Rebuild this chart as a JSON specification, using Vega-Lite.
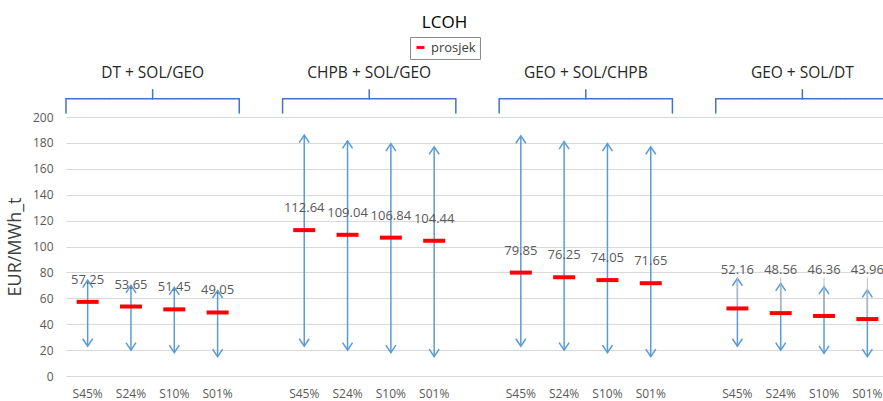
{
  "$schema": "https://vega.github.io/schema/vega-lite/v6.json",
  "width": 823,
  "height": 259,
  "autosize": {"type": "none"},
  "padding": {"left": 66, "top": 117, "right": 0, "bottom": 25},
  "background": "white",
  "title": {
    "text": "LCOH",
    "fontSize": 17,
    "fontWeight": "normal",
    "color": "#000000",
    "anchor": "middle",
    "frame": "group",
    "offset": 5,
    "dx": -33
  },
  "datasets": {
    "lcoh": [
      {"grp": "DT + SOL/GEO", "cat": "1|S45%", "min": 23, "max": 74, "mean": 57.25},
      {"grp": "DT + SOL/GEO", "cat": "1|S24%", "min": 20, "max": 70, "mean": 53.65},
      {"grp": "DT + SOL/GEO", "cat": "1|S10%", "min": 18, "max": 68.4, "mean": 51.45},
      {"grp": "DT + SOL/GEO", "cat": "1|S01%", "min": 15, "max": 66, "mean": 49.05},
      {"grp": "CHPB + SOL/GEO", "cat": "2|S45%", "min": 23, "max": 186, "mean": 112.64},
      {"grp": "CHPB + SOL/GEO", "cat": "2|S24%", "min": 20, "max": 181.5, "mean": 109.04},
      {"grp": "CHPB + SOL/GEO", "cat": "2|S10%", "min": 18, "max": 179.5, "mean": 106.84},
      {"grp": "CHPB + SOL/GEO", "cat": "2|S01%", "min": 15, "max": 177, "mean": 104.44},
      {"grp": "GEO + SOL/CHPB", "cat": "3|S45%", "min": 23, "max": 185.5, "mean": 79.85},
      {"grp": "GEO + SOL/CHPB", "cat": "3|S24%", "min": 20, "max": 181, "mean": 76.25},
      {"grp": "GEO + SOL/CHPB", "cat": "3|S10%", "min": 18, "max": 179.5, "mean": 74.05},
      {"grp": "GEO + SOL/CHPB", "cat": "3|S01%", "min": 15, "max": 177, "mean": 71.65},
      {"grp": "GEO + SOL/DT", "cat": "4|S45%", "min": 23, "max": 75.5, "mean": 52.16},
      {"grp": "GEO + SOL/DT", "cat": "4|S24%", "min": 20, "max": 71.5, "mean": 48.56},
      {"grp": "GEO + SOL/DT", "cat": "4|S10%", "min": 17.5, "max": 69, "mean": 46.36},
      {"grp": "GEO + SOL/DT", "cat": "4|S01%", "min": 15, "max": 66.5, "mean": 43.96}
    ],
    "braces": [
      {"grp": "DT + SOL/GEO", "first": "1|S45%", "mid": "1|S24%", "last": "1|S01%"},
      {"grp": "CHPB + SOL/GEO", "first": "2|S45%", "mid": "2|S24%", "last": "2|S01%"},
      {"grp": "GEO + SOL/CHPB", "first": "3|S45%", "mid": "3|S24%", "last": "3|S01%"},
      {"grp": "GEO + SOL/DT", "first": "4|S45%", "mid": "4|S24%", "last": "4|S01%"}
    ]
  },
  "data": {"name": "lcoh"},
  "layer": [
    {
      "mark": {"type": "rule", "color": "#5b9bd5", "strokeWidth": 1.5},
      "encoding": {
        "x": {
          "field": "cat", "type": "nominal", "title": null,
          "scale": {
            "domain": ["1|S45%", "1|S24%", "1|S10%", "1|S01%", "gap1", "2|S45%", "2|S24%", "2|S10%", "2|S01%", "gap2", "3|S45%", "3|S24%", "3|S10%", "3|S01%", "gap3", "4|S45%", "4|S24%", "4|S10%", "4|S01%"],
            "paddingInner": 0, "paddingOuter": 0
          },
          "axis": {
            "labelExpr": "indexof(datum.value, '|') > 0 ? split(datum.value, '|')[1] : ''"
          }
        },
        "y": {
          "field": "min", "type": "quantitative", "title": "EUR/MWh_t",
          "scale": {"domain": [0, 200], "nice": false},
          "axis": {
            "title": "EUR/MWh_t",
            "values": [0, 20, 40, 60, 80, 100, 120, 140, 160, 180, 200],
            "tickCount": 12
          }
        },
        "y2": {"field": "max"}
      }
    },
    {
      "mark": {"type": "point", "shape": "M -1 1.5 L 0 0 L 1 1.5", "size": 100, "filled": false, "stroke": "#5b9bd5", "strokeWidth": 1.5, "opacity": 1},
      "encoding": {
        "x": {"field": "cat", "type": "nominal", "title": null},
        "y": {"field": "max", "type": "quantitative", "title": "EUR/MWh_t"}
      }
    },
    {
      "mark": {"type": "point", "shape": "M -1 -1.5 L 0 0 L 1 -1.5", "size": 100, "filled": false, "stroke": "#5b9bd5", "strokeWidth": 1.5, "opacity": 1},
      "encoding": {
        "x": {"field": "cat", "type": "nominal", "title": null},
        "y": {"field": "min", "type": "quantitative", "title": "EUR/MWh_t"}
      }
    },
    {
      "transform": [{"filter": "datum.grp === 'GEO + SOL/DT'"}],
      "mark": {"type": "rule", "color": "#bfbfbf", "strokeWidth": 1},
      "encoding": {
        "x": {"field": "cat", "type": "nominal", "title": null},
        "y": {"field": "mean", "type": "quantitative", "title": "EUR/MWh_t"},
        "y2": {"datum": 76}
      }
    },
    {
      "mark": {"type": "tick", "size": 22, "thickness": 4, "opacity": 1},
      "encoding": {
        "x": {"field": "cat", "type": "nominal", "title": null},
        "y": {"field": "mean", "type": "quantitative", "title": "EUR/MWh_t"},
        "color": {
          "datum": "prosjek", "type": "nominal",
          "scale": {"range": ["#ff0000"]},
          "legend": {
            "orient": "none",
            "legendX": 344,
            "legendY": -80,
            "title": null,
            "symbolType": "M -1 -0.35 L 1 -0.35 L 1 0.35 L -1 0.35 Z",
            "symbolSize": 64,
            "symbolOpacity": 1,
            "labelFontSize": 13,
            "labelColor": "#404040",
            "labelOffset": 4,
            "strokeColor": "#8c8c8c",
            "padding": 4
          }
        }
      }
    },
    {
      "transform": [{"filter": "datum.grp !== 'GEO + SOL/DT'"}],
      "mark": {"type": "text", "dy": -22, "fontSize": 13, "color": "#595959"},
      "encoding": {
        "x": {"field": "cat", "type": "nominal", "title": null},
        "y": {"field": "mean", "type": "quantitative", "title": "EUR/MWh_t"},
        "text": {"field": "mean", "type": "quantitative", "format": ".2f"}
      }
    },
    {
      "transform": [{"filter": "datum.grp === 'GEO + SOL/DT'"}],
      "mark": {"type": "text", "fontSize": 13, "color": "#595959"},
      "encoding": {
        "x": {"field": "cat", "type": "nominal", "title": null},
        "y": {"datum": 82, "type": "quantitative", "title": "EUR/MWh_t"},
        "text": {"field": "mean", "type": "quantitative", "format": ".2f"}
      }
    },
    {
      "mark": {"type": "tick", "size": 44, "thickness": 1.5, "color": "#4472c4", "opacity": 1, "orient": "horizontal"},
      "encoding": {
        "x": {"field": "cat", "type": "nominal", "title": null},
        "y": {"datum": 214, "type": "quantitative", "title": "EUR/MWh_t"}
      }
    },
    {
      "data": {"name": "braces"},
      "mark": {"type": "rule", "color": "#4472c4", "strokeWidth": 1.5, "strokeCap": "round"},
      "encoding": {
        "x": {"field": "first", "type": "nominal", "bandPosition": 0, "title": null},
        "y": {"datum": 214, "type": "quantitative", "title": "EUR/MWh_t"},
        "y2": {"datum": 203}
      }
    },
    {
      "data": {"name": "braces"},
      "mark": {"type": "rule", "color": "#4472c4", "strokeWidth": 1.5, "strokeCap": "round"},
      "encoding": {
        "x": {"field": "last", "type": "nominal", "bandPosition": 1, "title": null},
        "y": {"datum": 214, "type": "quantitative", "title": "EUR/MWh_t"},
        "y2": {"datum": 203}
      }
    },
    {
      "data": {"name": "braces"},
      "mark": {"type": "rule", "color": "#4472c4", "strokeWidth": 1.5, "strokeCap": "round"},
      "encoding": {
        "x": {"field": "mid", "type": "nominal", "bandPosition": 1, "title": null},
        "y": {"datum": 214, "type": "quantitative", "title": "EUR/MWh_t"},
        "y2": {"datum": 221}
      }
    },
    {
      "data": {"name": "braces"},
      "mark": {"type": "text", "fontSize": 15.5, "color": "#262626", "baseline": "middle"},
      "encoding": {
        "x": {"field": "mid", "type": "nominal", "bandPosition": 1, "title": null},
        "y": {"datum": 233.6, "type": "quantitative", "title": "EUR/MWh_t"},
        "text": {"field": "grp", "type": "nominal"}
      }
    }
  ],
  "config": {
    "font": "Open Sans",
    "view": {"stroke": null},
    "axisX": {
      "labelAngle": 0,
      "domain": false,
      "ticks": false,
      "tickSize": 0,
      "grid": false,
      "labelPadding": 12,
      "labelFontSize": 12,
      "labelColor": "#595959"
    },
    "axisY": {
      "labelOverlap": false,
      "grid": true,
      "gridColor": "#d9d9d9",
      "gridWidth": 1,
      "domain": false,
      "ticks": false,
      "tickSize": 0,
      "labelPadding": 13,
      "labelFontSize": 12,
      "labelColor": "#595959",
      "titleFontSize": 18,
      "titleFontWeight": "normal",
      "titleColor": "#404040",
      "titlePadding": 8
    }
  }
}
